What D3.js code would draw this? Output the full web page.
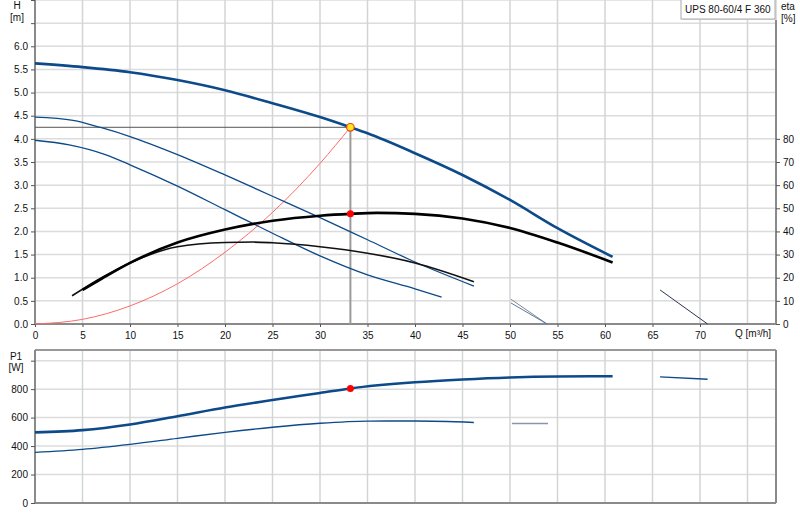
<!DOCTYPE html>
<html>
<head>
<meta charset="utf-8">
<script src="https://cdn.jsdelivr.net/npm/d3@7"></script>
<style>
  body { margin: 0; background: #fff; }
  text { font-family: "Liberation Sans", Arial, sans-serif; font-size: 10px; fill: #111; }
</style>
</head>
<body>
<svg id="chart" width="800" height="520"></svg>
<script>
// tick labels
const qTicks = [0, 5, 10, 15, 20, 25, 30, 35, 40, 45, 50, 55, 60, 65, 70];
const hTicks = [0, 0.5, 1.0, 1.5, 2.0, 2.5, 3.0, 3.5, 4.0, 4.5, 5.0, 5.5, 6.0];
const etaTicks = [0, 10, 20, 30, 40, 50, 60, 70, 80];
const p1Ticks = [0, 200, 400, 600, 800];

// pump curves H(Q)
const hMaxQ = [0, 5, 10, 15, 20, 25, 30, 33.2, 35, 40, 45, 50, 55, 60.8];
const hMaxH = [5.63, 5.55, 5.44, 5.27, 5.05, 4.77, 4.47, 4.25, 4.12, 3.69, 3.22, 2.68, 2.07, 1.45];
const hMidQ = [0, 4, 7, 10, 15, 20, 25, 30, 35, 40, 46.2];
const hMidH = [4.47, 4.40, 4.24, 4.05, 3.66, 3.22, 2.76, 2.30, 1.82, 1.34, 0.82];
const hLowQ = [0, 3.6, 7.4, 10, 15, 20, 25, 30, 35, 40, 42.8];
const hLowH = [3.97, 3.87, 3.66, 3.44, 2.98, 2.47, 1.96, 1.47, 1.06, 0.76, 0.58];

// system curve
const sysQ = [0, 5, 10, 15, 20, 25, 30, 33.2];
const sysH = [0, 0.10, 0.39, 0.87, 1.55, 2.41, 3.47, 4.25];

// efficiency
const etaMaxQ = [5, 7, 10, 15, 20, 25, 30, 33.2, 36, 40, 45, 50, 55, 60.8];
const etaMaxV = [14.7, 19.5, 26.4, 35.2, 40.8, 44.6, 46.8, 47.6, 48, 47.6, 45.6, 41.5, 35.2, 26.6];
const etaLowQ = [3.9, 7, 10, 15, 20, 23, 25, 30, 35, 40, 46.2];
const etaLowV = [12.2, 20, 26.4, 33.4, 35.2, 35.4, 35.1, 33.4, 30.6, 26.4, 18.3];

// short segments at the right
const segAQ = [50.1, 53.9], segAV = [10.7, 0];
const segBQ = [50.1, 53.9], segBV = [9.1, 0];
const segCQ = [65.8, 70.8], segCV = [14.7, 0];

// power P1(Q)
const p1MaxQ = [0, 5, 10, 15, 20, 25, 30, 33.2, 40, 45, 50, 55, 60.8];
const p1MaxP = [496, 512, 552, 610, 671, 724, 773, 805, 848, 868, 882, 889, 891];
const p1LowQ = [0, 5, 10, 15, 20, 25, 30, 35, 40, 46.2];
const p1LowP = [356, 377, 412, 454, 496, 532, 560, 575, 576, 566];
const p1SegAQ = [50.2, 54.0], p1SegAP = [559, 559];
const p1SegBQ = [65.8, 70.8], p1SegBP = [886, 870];

// duty point
const dutyQ = 33.2, dutyH = 4.25, dutyEta = 47.6, dutyP1 = 805;

const svg = d3.select("#chart");
const blue = "#0c4a89";

// scales
const x = d3.scaleLinear().domain([0, 78]).range([35, 776]);
const yH = d3.scaleLinear().domain([0, 7]).range([324, 0]);
const yEta = d3.scaleLinear().domain([0, 140]).range([324, 0]);
const yP = d3.scaleLinear().domain([0, 1075]).range([503, 350]);

const zip = (a, b) => a.map((v, i) => [v, b[i]]);

// grids
const gridV = d3.range(5, 78, 5);
function grid(yScale, yVals, top, bottom) {
  const g = svg.append("g");
  g.selectAll(".gh").data(yVals).enter().append("line")
    .attr("x1", x(0)).attr("x2", x(78))
    .attr("y1", d => yScale(d)).attr("y2", d => yScale(d))
    .attr("stroke", "#dcdcdc").attr("stroke-width", 1.5);
  g.selectAll(".gv").data(gridV).enter().append("line")
    .attr("x1", d => x(d)).attr("x2", d => x(d))
    .attr("y1", top).attr("y2", bottom)
    .attr("stroke", "#d2d4d6").attr("stroke-width", 1.5);
}
grid(yH, d3.range(0.5, 7.01, 0.5), yH(7), yH(0));
grid(yP, [200, 400, 600, 800, 1000], yP(1075), yP(0));

// lower panel top border
svg.append("line").attr("x1", x(0)).attr("x2", x(78))
  .attr("y1", yP(1075)).attr("y2", yP(1075))
  .attr("stroke", "#999").attr("stroke-width", 2);

// axes
const axL = svg.append("g").attr("transform", `translate(${x(0)},0)`)
  .call(d3.axisLeft(yH).tickValues(hTicks.concat([6.5, 7])).tickSize(4)
    .tickFormat(d => d > 6 ? "" : d3.format(".1f")(d)));
const axR = svg.append("g").attr("transform", `translate(${x(78)},0)`)
  .call(d3.axisRight(yEta).tickValues(etaTicks).tickSize(4));
const axB = svg.append("g").attr("transform", `translate(0,${yH(0)})`)
  .call(d3.axisBottom(x).tickValues(qTicks).tickSize(3));
const axP = svg.append("g").attr("transform", `translate(${x(0)},0)`)
  .call(d3.axisLeft(yP).tickValues(p1Ticks.concat([1000])).tickSize(4)
    .tickFormat(d => d > 800 ? "" : d));
const axPB = svg.append("g").attr("transform", `translate(0,${yP(0)})`)
  .call(d3.axisBottom(x).tickValues([]).tickSize(0));
const axPR = svg.append("g").attr("transform", `translate(${x(78)},0)`)
  .call(d3.axisRight(yP).tickValues([]).tickSize(0));

[axL, axR, axB, axP, axPB, axPR].forEach(a => {
  a.select(".domain").attr("stroke", "#8a8a8a").attr("stroke-width", 2);
  a.selectAll(".tick line").attr("stroke", "#555");
  a.selectAll(".tick text").attr("font-size", 10.5).attr("fill", "#111")
    .attr("font-family", "Liberation Sans, Arial, sans-serif");
});
axL.select(".domain").attr("d", `M0,${yH(7)}V${yH(0)}`);
axR.select(".domain").attr("d", `M0,${yEta(140)}V${yEta(0)}`);
axB.select(".domain").attr("d", `M${x(0)},0H${x(78)}`);
axP.select(".domain").attr("d", `M0,${yP(1075)}V${yP(0)}`);
axPB.select(".domain").attr("d", `M${x(0)},0H${x(78)}`);
axPR.select(".domain").attr("d", `M0,${yP(1075)}V${yP(0)}`);
axB.selectAll(".tick text").attr("dy", "0.9em");

// axis titles
svg.append("text").attr("x", 17).attr("y", 9).attr("text-anchor", "middle").attr("font-size", 10.5).text("H");
svg.append("text").attr("x", 17).attr("y", 21).attr("text-anchor", "middle").attr("font-size", 10.5).text("[m]");
svg.append("text").attr("x", 781).attr("y", 10).text("eta");
svg.append("text").attr("x", 781).attr("y", 22).text("[%]");
svg.append("text").attr("x", 735).attr("y", 337).text("Q [m³/h]");
svg.append("text").attr("x", 16).attr("y", 360).attr("text-anchor", "middle").attr("font-size", 10.5).text("P1");
svg.append("text").attr("x", 16).attr("y", 371).attr("text-anchor", "middle").attr("font-size", 10.5).text("[W]");

// duty point reference lines
svg.append("line").attr("x1", x(0)).attr("x2", x(dutyQ))
  .attr("y1", yH(dutyH)).attr("y2", yH(dutyH))
  .attr("stroke", "#555").attr("stroke-width", 1);
svg.append("line").attr("x1", x(dutyQ)).attr("x2", x(dutyQ))
  .attr("y1", yH(dutyH)).attr("y2", yH(0))
  .attr("stroke", "#9a9a9a").attr("stroke-width", 2);

// curves
function curve(qs, vs, yScale, color, width, smooth = true) {
  const line = d3.line().x(d => x(d[0])).y(d => yScale(d[1]))
    .curve(smooth ? d3.curveMonotoneX : d3.curveLinear);
  svg.append("path").datum(zip(qs, vs)).attr("d", line)
    .attr("fill", "none").attr("stroke", color).attr("stroke-width", width)
    .attr("stroke-linejoin", "round");
}
curve(sysQ, sysH, yH, "#ff6a6a", 1);
curve(hLowQ, hLowH, yH, blue, 1.3);
curve(hMidQ, hMidH, yH, blue, 1.3);
curve(etaLowQ, etaLowV, yEta, "#111", 1.6);
curve(etaMaxQ, etaMaxV, yEta, "#000", 2.6);
curve(hMaxQ, hMaxH, yH, blue, 2.6);
curve(segAQ, segAV, yEta, "#888", 1, false);
curve(segBQ, segBV, yEta, "#5a7aa8", 1, false);
curve(segCQ, segCV, yEta, "#2b3550", 1, false);

curve(p1LowQ, p1LowP, yP, blue, 1.4);
curve(p1MaxQ, p1MaxP, yP, blue, 2.6);
curve(p1SegAQ, p1SegAP, yP, "#8a95ab", 1.4, false);
curve(p1SegBQ, p1SegBP, yP, blue, 1.4, false);

// duty points
svg.append("circle").attr("cx", x(dutyQ)).attr("cy", yH(dutyH)).attr("r", 3.8)
  .attr("fill", "#ffe619").attr("stroke", "#e8401a").attr("stroke-width", 1.2);
svg.append("circle").attr("cx", x(dutyQ)).attr("cy", yEta(dutyEta)).attr("r", 3.5)
  .attr("fill", "#ff0000");
svg.append("circle").attr("cx", x(dutyQ)).attr("cy", yP(dutyP1)).attr("r", 3.5)
  .attr("fill", "#ff0000");

// legend box
const lg = svg.append("g").attr("transform", "translate(681,0)");
lg.append("rect").attr("x", 1).attr("y", -1).attr("width", 95).attr("height", 21)
  .attr("fill", "#ddd");
lg.append("rect").attr("x", 0).attr("y", -2).attr("width", 94).attr("height", 21)
  .attr("fill", "#fff").attr("stroke", "#aaa");
lg.append("text").attr("x", 4).attr("y", 13).attr("font-size", 10.2).text("UPS 80-60/4 F 360");
</script>
</body>
</html>
